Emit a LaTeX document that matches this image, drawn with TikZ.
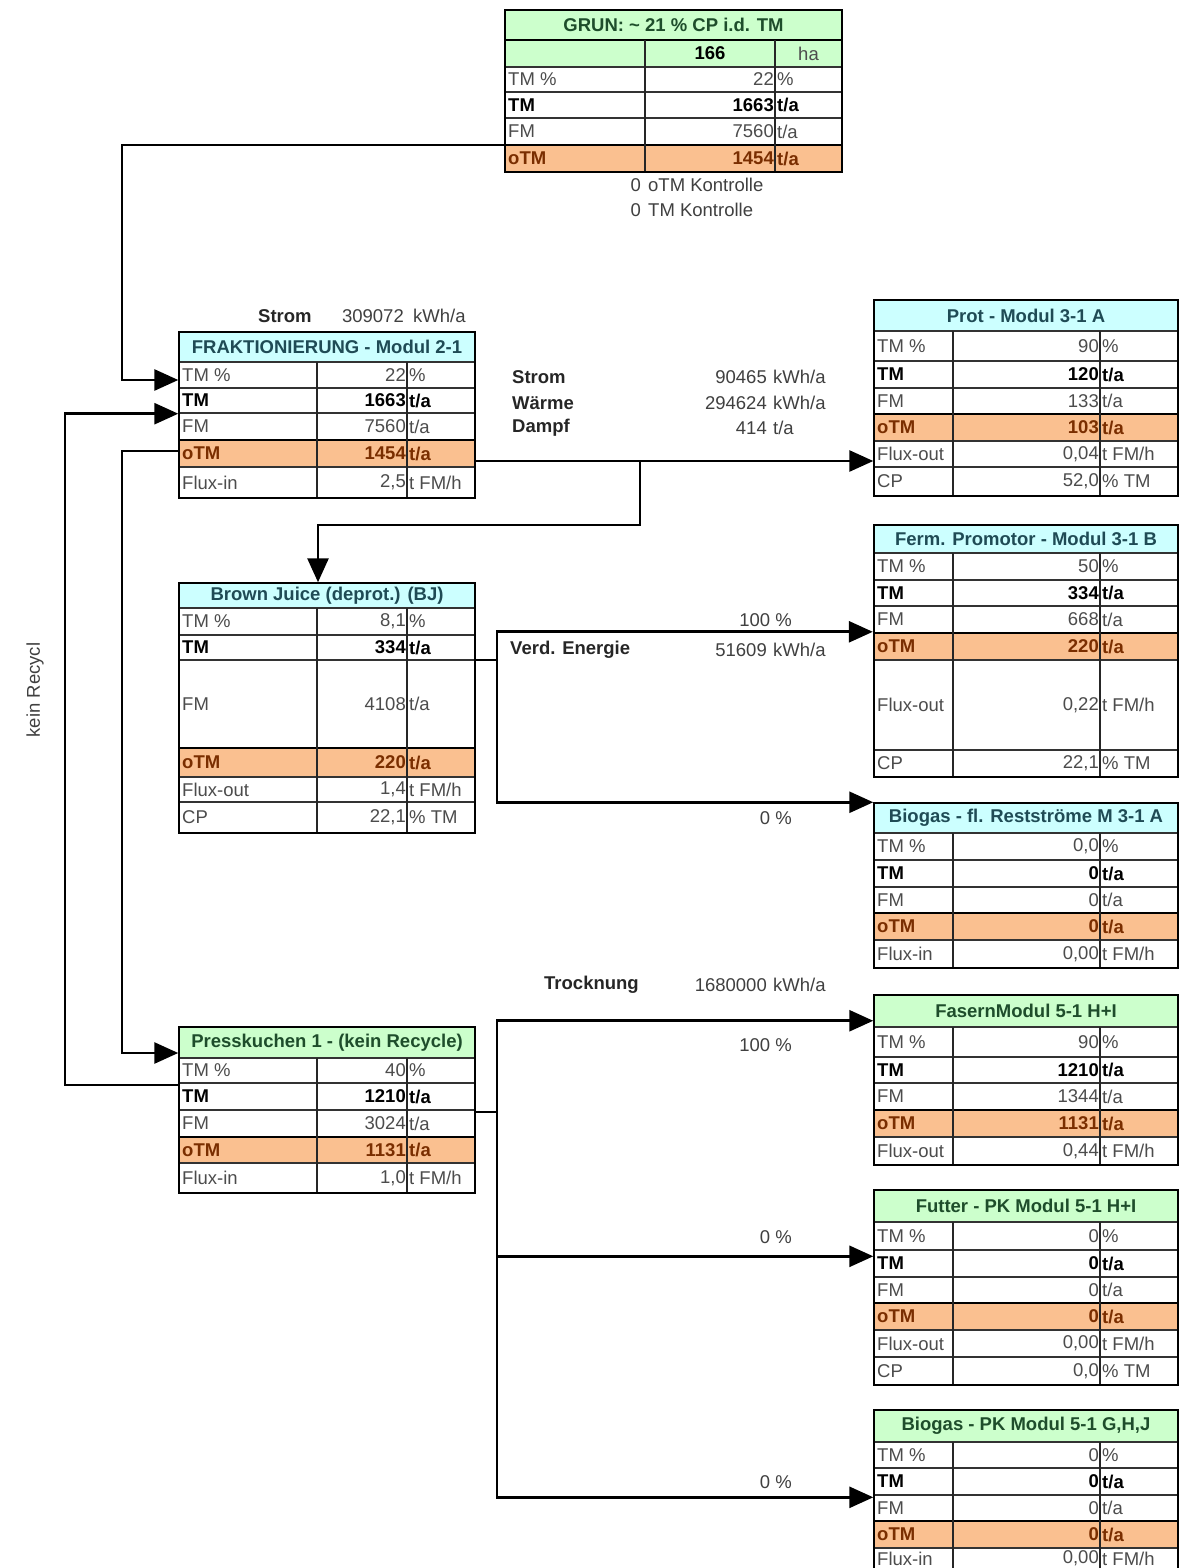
\documentclass[tikz,border=0pt]{standalone}
\usepackage{fontspec}
\setmainfont{Liberation Sans}
\usetikzlibrary{arrows.meta}

\definecolor{cyanhd}{HTML}{CCFFFF}
\definecolor{greenhd}{HTML}{CCFFCC}
\definecolor{otmfill}{HTML}{FAC090}
\definecolor{otmtxt}{HTML}{7A2E00}
\definecolor{hdtxtc}{HTML}{1F4B55}
\definecolor{hdtxtg}{HTML}{1E4D2B}

% columns: left, divider 1, divider 2, right
\def\mcols#1,#2,#3,#4\relax{\def\xa{#1}\def\xb{#2}\def\xc{#3}\def\xd{#4}}
\def\colsL{179,317,407,475}
\def\colsR{874,953,1100,1178}

% name, columns, top, header bottom, title, header style, rows
\newcommand{\mtable}[7]{%
  \expandafter\mcols#2\relax
  \pgfmathsetmacro\tw{\xd-\xa}
  \pgfmathsetmacro\hh{#4-#3}
  \node[#6, minimum width=\tw pt, minimum height=\hh pt] (#1-head) at ({(\xa+\xd)/2},{(#3+#4)/2}) {#5};
  \foreach \lab/\val/\uni/\ya/\yb/\kind [count=\i] in {#7}{%
    \pgfmathsetmacro\rh{\yb-\ya}
    \pgfmathsetmacro\ym{(\ya+\yb)/2}
    \node[row\kind, minimum width=\tw pt, minimum height=\rh pt] (#1-r\i) at ({(\xa+\xd)/2},\ym) {};
    \node[lab\kind, anchor=west] at (\xa+3,\ym) {\lab};
    \node[lab\kind, anchor=east] at (\xc-1,\ym) {\val};
    \node[lab\kind, anchor=west] at (\xc+2,\ym) {\uni};
    \xdef\ylast{\yb}
  }
  \draw[cell] (\xb,#4) -- (\xb,\ylast) (\xc,#4) -- (\xc,\ylast);
  \draw[tframe] (\xa,#3) rectangle (\xd,\ylast);
}

\begin{document}
\fontsize{18.5}{21}\selectfont
\begin{tikzpicture}[x=1pt, y=-1pt,
    wire/.style={line width=2.8pt},
    flow/.style={line width=2.8pt, -{Triangle[length=24pt, width=21pt]}},
    hdcyan/.style={draw=black, line width=1.5pt, fill=cyanhd, text=hdtxtc, font=\bfseries, inner sep=0pt},
    hdgreen/.style={draw=black, line width=1.5pt, fill=greenhd, text=hdtxtg, font=\bfseries, inner sep=0pt},
    rown/.style={draw=black!80, line width=1.4pt, fill=white, inner sep=0pt},
    rowb/.style={rown},
    rowo/.style={draw=black, line width=2.4pt, fill=otmfill, inner sep=0pt},
    labn/.style={inner sep=0pt, text=black!70},
    labb/.style={inner sep=0pt, text=black, font=\bfseries},
    labo/.style={inner sep=0pt, text=otmtxt, font=\bfseries},
    cell/.style={draw=black!85, line width=1.6pt},
    tframe/.style={draw=black, line width=2.6pt},
    note/.style={inner sep=0pt, text=black!75},
    noteb/.style={inner sep=0pt, text=black!85, font=\bfseries}
]
\fill[white] (0,0) rectangle (1179,1568);
\clip (0,0) rectangle (1179,1568);

% GRUN
\node[hdgreen, minimum width=337pt, minimum height=27pt] (gruen-sub) at (673.5,53.5) {};
\mtable{gruen}{505,645,775,842}{10}{40}{GRUN: \textasciitilde{} 21 \% CP i.d. TM}{hdgreen}{
  TM \%/22/\%/67/92/n, TM/1663/{t/a}/92/118/b, FM/7560/{t/a}/118/145/n, oTM/1454/{t/a}/145/172/o}
\node[labb] at (710,53.5) {166};
\node[labn] at (808.5,53.5) {ha};
\node[note, anchor=east] (kontr1) at (641,185) {0};
\node[note, anchor=west] at (648,185) {oTM Kontrolle};
\node[note, anchor=east] (kontr2) at (641,210) {0};
\node[note, anchor=west] at (648,210) {TM Kontrolle};

% Fraktionierung
\node[noteb, anchor=west] (strom1) at (258,316) {Strom};
\node[note, anchor=east] at (404,316) {309072};
\node[note, anchor=west] at (413,316) {kWh/a};
\mtable{frak}{\colsL}{332}{362}{FRAKTIONIERUNG - Modul 2-1}{hdcyan}{
  TM \%/22/\%/362/388/n, TM/1663/{t/a}/388/413/b, FM/7560/{t/a}/413/440/n,
  oTM/1454/{t/a}/440/467/o, Flux-in/{2,5}/{t FM/h}/467/498/n}

\node[noteb, anchor=west] (strom2) at (512,377) {Strom};
\node[noteb, anchor=west] (waerme) at (512,403) {Wärme};
\node[noteb, anchor=west] (dampf) at (512,428) {Dampf};
\node[note, anchor=east] at (767,377) {90465};
\node[note, anchor=west] at (773,377) {kWh/a};
\node[note, anchor=east] at (767,403) {294624};
\node[note, anchor=west] at (773,403) {kWh/a};
\node[note, anchor=east] at (767,428) {414};
\node[note, anchor=west] at (773,428) {t/a};

% Brown Juice
\mtable{bj}{\colsL}{583}{608}{Brown Juice (deprot.) (BJ)}{hdcyan}{
  TM \%/{8,1}/\%/608/635/n, TM/334/{t/a}/635/660/b, FM/4108/{t/a}/660/748/n,
  oTM/220/{t/a}/748/777/o, Flux-out/{1,4}/{t FM/h}/777/802/n, CP/{22,1}/{\% TM}/802/833/n}

% Presskuchen
\mtable{presse}{\colsL}{1027}{1058}{Presskuchen 1 - (kein Recycle)}{hdgreen}{
  TM \%/40/\%/1058/1083/n, TM/1210/{t/a}/1083/1110/b, FM/3024/{t/a}/1110/1137/n,
  oTM/1131/{t/a}/1137/1163/o, Flux-in/{1,0}/{t FM/h}/1163/1193/n}

% right column
\mtable{prot}{\colsR}{300}{331}{Prot - Modul 3-1 A}{hdcyan}{
  TM \%/90/\%/331/361/n, TM/120/{t/a}/361/388/b, FM/133/{t/a}/388/414/n,
  oTM/103/{t/a}/414/441/o, Flux-out/{0,04}/{t FM/h}/441/467/n, CP/{52,0}/{\% TM}/467/496/n}
\mtable{ferm}{\colsR}{525}{553}{Ferm. Promotor - Modul 3-1 B}{hdcyan}{
  TM \%/50/\%/553/580/n, TM/334/{t/a}/580/606/b, FM/668/{t/a}/606/633/n,
  oTM/220/{t/a}/633/660/o, Flux-out/{0,22}/{t FM/h}/660/750/n, CP/{22,1}/{\% TM}/750/777/n}
\mtable{bfl}{\colsR}{803}{833}{Biogas - fl. Restströme M 3-1 A}{hdcyan}{
  TM \%/{0,0}/\%/833/860/n, TM/0/{t/a}/860/887/b, FM/0/{t/a}/887/913/n,
  oTM/0/{t/a}/913/940/o, Flux-in/{0,00}/{t FM/h}/940/968/n}
\mtable{fasern}{\colsR}{995}{1027}{FasernModul 5-1 H+I}{hdgreen}{
  TM \%/90/\%/1027/1057/n, TM/1210/{t/a}/1057/1083/b, FM/1344/{t/a}/1083/1110/n,
  oTM/1131/{t/a}/1110/1137/o, Flux-out/{0,44}/{t FM/h}/1137/1165/n}
\mtable{futter}{\colsR}{1190}{1222}{Futter - PK Modul 5-1 H+I}{hdgreen}{
  TM \%/0/\%/1222/1250/n, TM/0/{t/a}/1250/1277/b, FM/0/{t/a}/1277/1303/n,
  oTM/0/{t/a}/1303/1330/o, Flux-out/{0,00}/{t FM/h}/1330/1357/n, CP/{0,0}/{\% TM}/1357/1385/n}
\mtable{bpk}{\colsR}{1410}{1442}{Biogas - PK Modul 5-1 G,H,J}{hdgreen}{
  TM \%/0/\%/1442/1468/n, TM/0/{t/a}/1468/1495/b, FM/0/{t/a}/1495/1521/n,
  oTM/0/{t/a}/1521/1548/o, Flux-in/{0,00}/{t FM/h}/1548/1569/n}

% labels at the branches
\node[note, anchor=east] (pBJa) at (792,620) {100 \%};
\node[noteb, anchor=west] (verd) at (510,650) {Verd. Energie};
\node[note, anchor=east] at (767,650) {51609};
\node[note, anchor=west] at (773,650) {kWh/a};
\node[note, anchor=east] (pBJb) at (792,818) {0 \%};
\node[noteb, anchor=west] (trock) at (544,985) {Trocknung};
\node[note, anchor=east] at (767,985) {1680000};
\node[note, anchor=west] at (773,985) {kWh/a};
\node[note, anchor=east] (pPKa) at (792,1045) {100 \%};
\node[note, anchor=east] (pPKb) at (792,1237) {0 \%};
\node[note, anchor=east] (pPKc) at (792,1482) {0 \%};
\node[note, rotate=90] (recycl) at (35,690) {kein Recycl};

% bend points
\coordinate (kA) at (122,145);
\coordinate (kB) at (65,1085);
\coordinate (kC) at (640,461);
\coordinate (kD) at (318,525);
\coordinate (kE) at (497,660);
\coordinate (kF) at (497,1112);
\coordinate (kG) at (122,1053);
\coordinate (kH) at (122,451);

% flows
\draw[flow] (kA -| gruen-r4.west) -- (kA) |- ([yshift=-5pt]frak-r1.west);
\draw[flow] (kB -| presse-r1.west) -- (kB) |- (frak-r2.south west);
\draw[flow] (kH -| frak-r4.west) -- (kH) |- (kG -| presse-head.west);
\draw[flow] (kC -| frak-r4.east) -- (kC) -- (kC -| prot-r5.west);
\draw[flow] (kC) |- (kD) -- (kD |- bj-head.north);
\draw[wire] (kE -| bj-r2.east) -- (kE);
\draw[flow] (kE) |- (ferm-r4.north west);
\draw[flow] (kE) |- (bfl-head.north west);
\draw[wire] (kF -| presse-r3.east) -- (kF);
\draw[flow] (kF) |- ([yshift=7pt]fasern-head.south west);
\draw[flow] (kF) |- ([yshift=-7pt]futter-r2.north west);
\draw[flow] (kF) |- ([yshift=-3pt]bpk-r3.north west);
\end{tikzpicture}
\end{document}
